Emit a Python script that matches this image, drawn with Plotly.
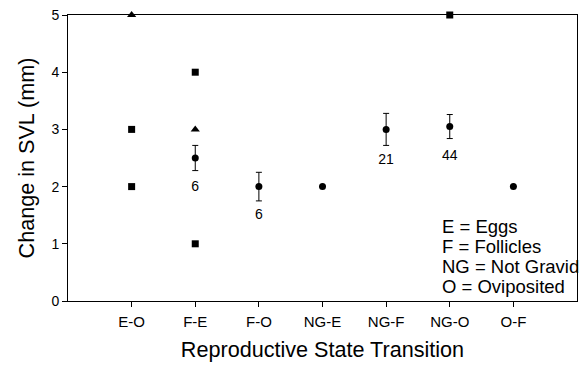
import plotly.graph_objects as go

categories = ["E-O", "F-E", "F-O", "NG-E", "NG-F", "NG-O", "O-F"]

# mean values (circles) with standard errors
mean_cats = ["F-E", "F-O", "NG-E", "NG-F", "NG-O", "O-F"]
mean_vals = [2.5, 2.0, 2.0, 3.0, 3.05, 2.0]
mean_err = [0.22, 0.25, 0, 0.28, 0.21, 0]

# individual observations (squares)
square_cats = ["E-O", "E-O", "F-E", "F-E", "NG-O"]
square_vals = [3, 2, 4, 1, 5]

# individual observations (triangles)
tri_cats = ["E-O", "F-E"]
tri_vals = [5, 3]

# sample size labels
n_cats = ["F-E", "F-O", "NG-F", "NG-O"]
n_vals = [1.98, 1.49, 2.45, 2.53]
n_text = ["6", "6", "21", "44"]

legend_lines = ["E = Eggs", "F = Follicles", "NG = Not Gravid", "O = Oviposited"]
legend_ypos = [0.262, 0.191, 0.121, 0.050]

FONT = "Liberation Sans, Arial"
idx = {c: i for i, c in enumerate(categories)}

fig = go.Figure()
fig.add_trace(go.Scatter(
    x=[idx[c] for c in mean_cats], y=mean_vals, mode="markers",
    marker=dict(symbol="circle", size=7, color="black"),
    error_y=dict(type="data", array=mean_err, color="black", thickness=1, width=3),
    cliponaxis=False, showlegend=False))
fig.add_trace(go.Scatter(
    x=[idx[c] for c in square_cats], y=square_vals, mode="markers",
    marker=dict(symbol="square", size=7, color="black"),
    cliponaxis=False, showlegend=False))
fig.add_trace(go.Scatter(
    x=[idx[c] for c in tri_cats], y=tri_vals, mode="markers",
    marker=dict(symbol="triangle-up", size=8, color="black"),
    cliponaxis=False, showlegend=False))
fig.add_trace(go.Scatter(
    x=[idx[c] for c in n_cats], y=n_vals, mode="text", text=n_text,
    textfont=dict(family=FONT, size=14, color="black"),
    showlegend=False))

for line, yp in zip(legend_lines, legend_ypos):
    fig.add_annotation(
        x=0.731, y=yp, xref="paper", yref="paper", xanchor="left", yanchor="middle",
        text=line, showarrow=False, align="left",
        font=dict(family=FONT, size=18.5, color="black"))

fig.update_layout(
    width=585, height=369,
    margin=dict(l=68, r=7, t=13, b=68),
    paper_bgcolor="white", plot_bgcolor="white",
    hovermode=False,
    font=dict(family=FONT, color="black"),
    xaxis=dict(
        range=[-1, 7], tickmode="array", tickvals=list(range(len(categories))),
        ticktext=categories, ticks="outside", ticklen=5, tickcolor="black",
        ticklabelstandoff=2,
        showline=True, linecolor="black", linewidth=1, mirror=True,
        showgrid=False, zeroline=False, tickfont=dict(size=15),
        title=dict(text="Reproductive State Transition", font=dict(size=21.6), standoff=12)),
    yaxis=dict(
        range=[0, 5], tickvals=[0, 1, 2, 3, 4, 5], ticks="outside", ticklen=5,
        tickcolor="black", showline=True, linecolor="black", linewidth=1, mirror=True,
        showgrid=False, zeroline=False, tickfont=dict(size=14),
        title=dict(text="Change in SVL (mm)", font=dict(size=21.6), standoff=10)),
)

# remove the default page margin so the 585x369 figure fills the window exactly
fig.write_html("out.html", config={"displayModeBar": False},
               post_script="document.body.style.margin='0';")
